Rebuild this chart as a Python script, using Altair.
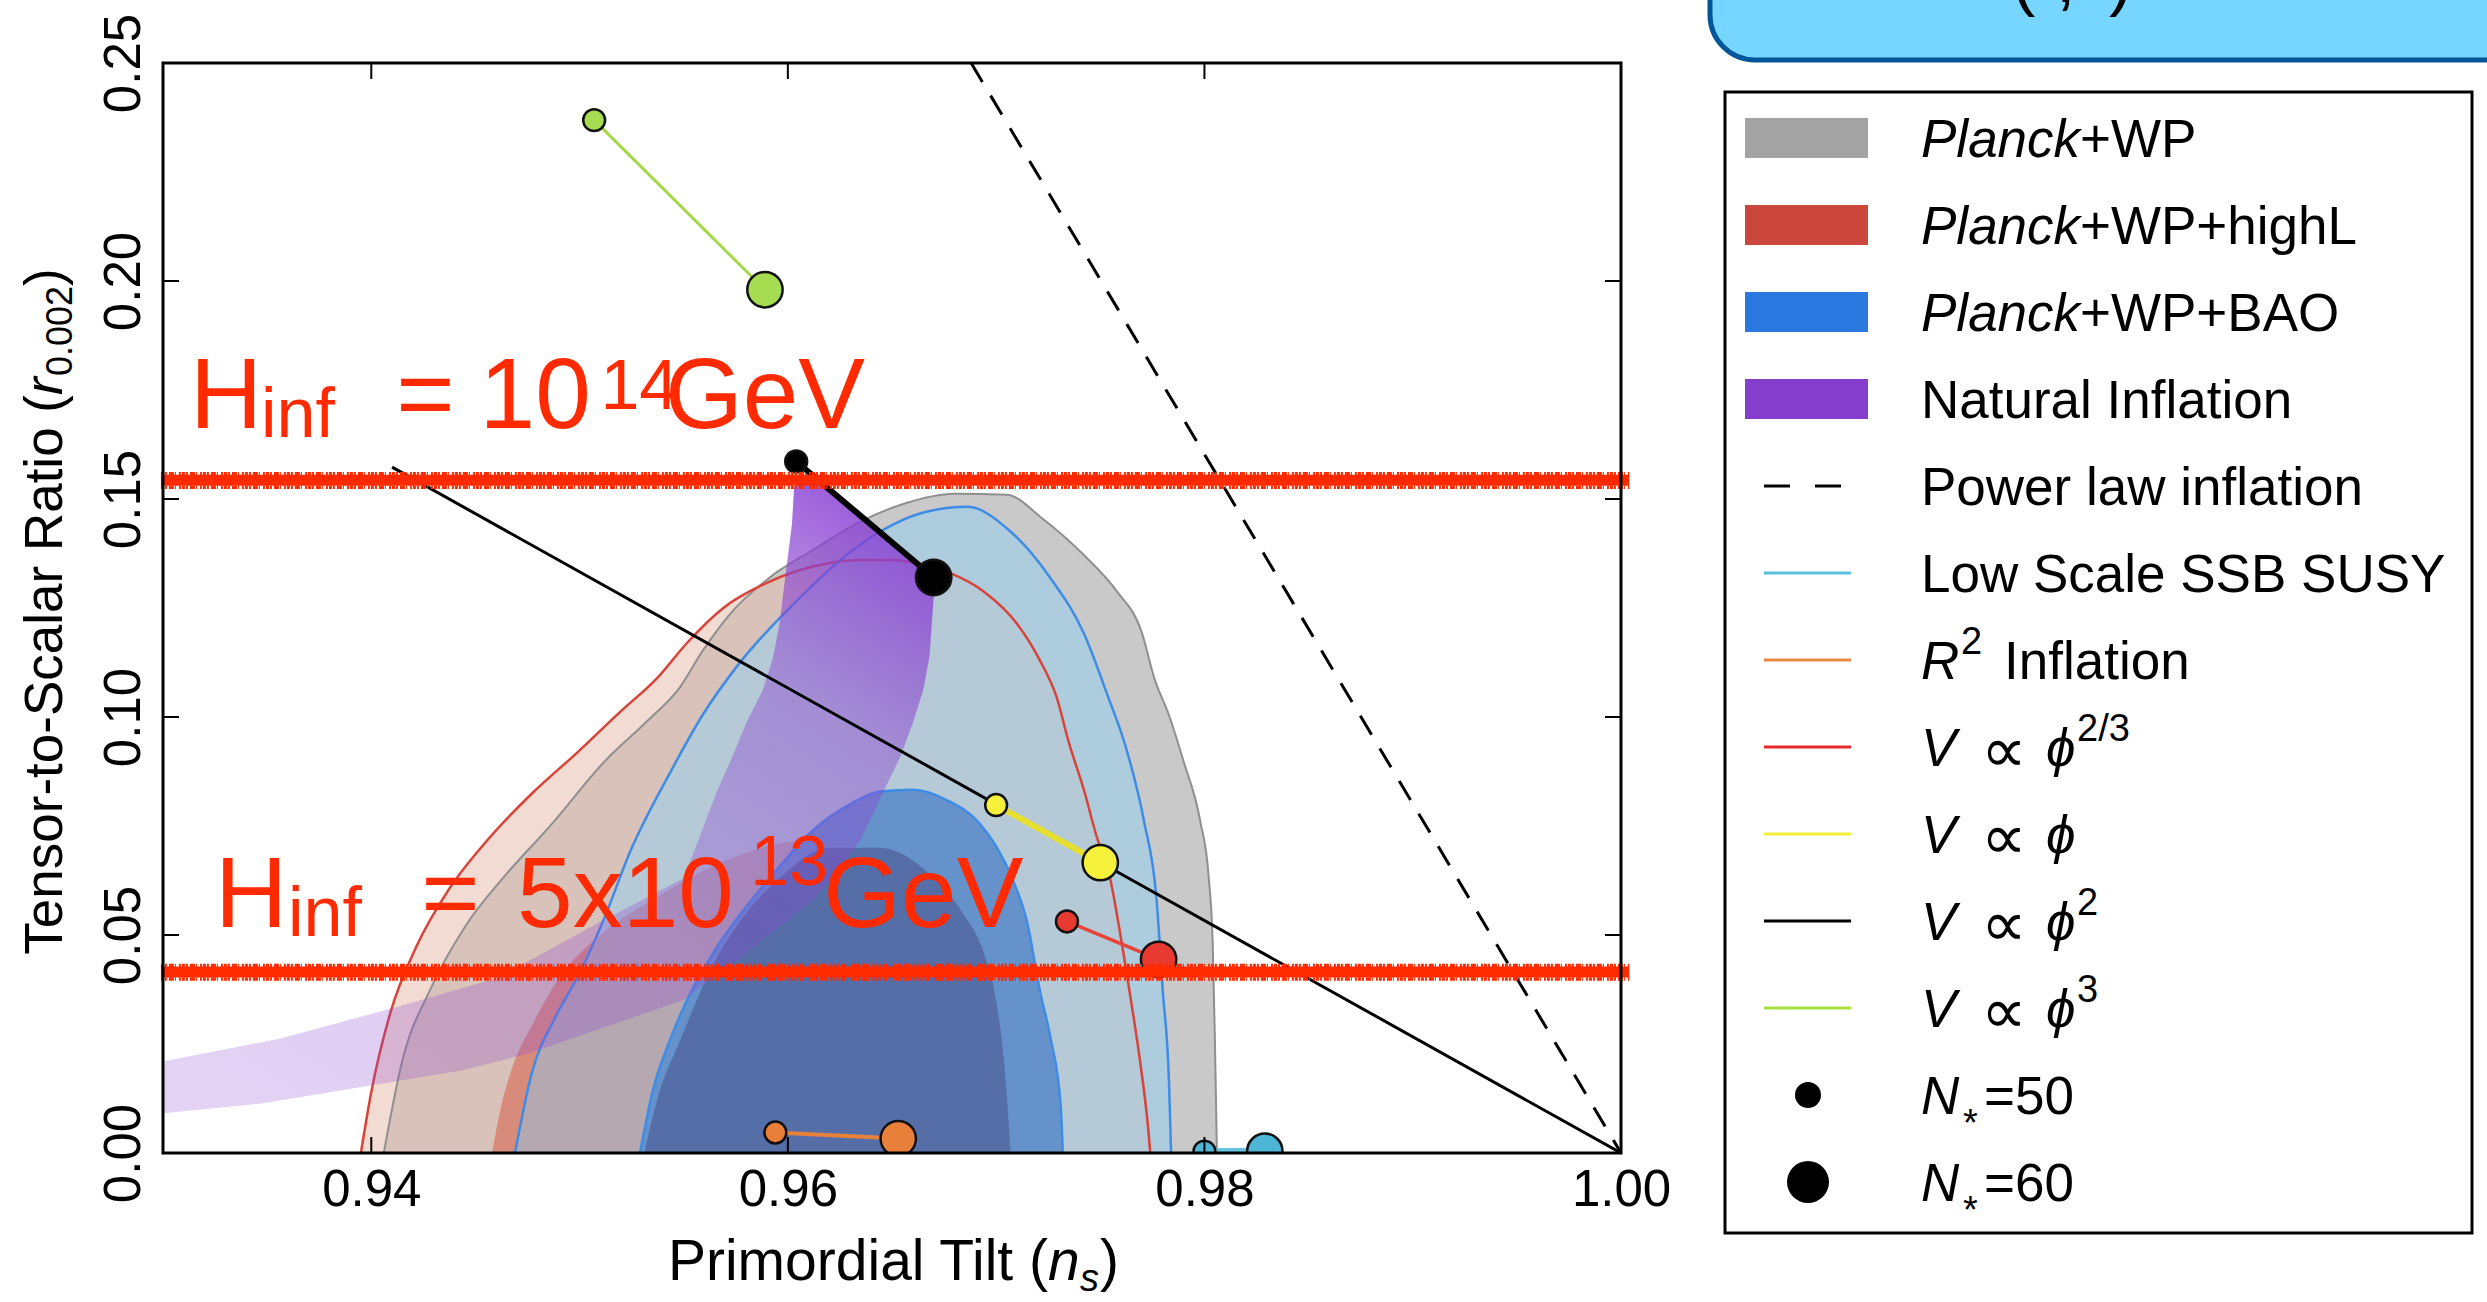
import altair as alt
import pandas as pd

# ---------------- values ----------------
x_tick_values = [0.94, 0.96, 0.98, 1.00]
y_tick_values = [0.00, 0.05, 0.10, 0.15, 0.20, 0.25]
inner_x_ticks = [0.94, 0.96, 0.98]
inner_y_ticks = [0.05, 0.10, 0.15, 0.20]

# Planck+WP 95% region (grey)
g95_ns = [0.9406, 0.9415, 0.9428, 0.9445, 0.9464, 0.9486, 0.9512, 0.9533, 0.9548, 0.9559, 0.9572, 0.9591,
          0.9612, 0.9634, 0.9655, 0.9680, 0.9705, 0.9722, 0.9742, 0.9758, 0.9770, 0.9776, 0.9783, 0.9790,
          0.9798, 0.9802, 0.9804, 0.9805, 0.9806]
g95_r = [0.0000, 0.0214, 0.0372, 0.0519, 0.0635, 0.0751, 0.0898, 0.0993, 0.1067, 0.1151, 0.1235, 0.1319,
         0.1383, 0.1446, 0.1488, 0.1512, 0.1510, 0.1456, 0.1372, 0.1288, 0.1193, 0.1088, 0.1004, 0.0898,
         0.0761, 0.0635, 0.0477, 0.0266, 0.0000]

# Planck+WP+highL outer region (red)
r95_ns = [0.9395, 0.9400, 0.9409, 0.9422, 0.9437, 0.9456, 0.9477, 0.9499, 0.9520, 0.9537, 0.9552, 0.9569,
          0.9591, 0.9612, 0.9634, 0.9651, 0.9664, 0.9678, 0.9694, 0.9710, 0.9721, 0.9729, 0.9735, 0.9742,
          0.9748, 0.9755, 0.9759, 0.9764, 0.9769, 0.9773, 0.9774]
r95_r = [0.0000, 0.0140, 0.0319, 0.0477, 0.0603, 0.0719, 0.0824, 0.0919, 0.1014, 0.1088, 0.1172, 0.1250,
         0.1310, 0.1345, 0.1360, 0.1360, 0.1350, 0.1330, 0.1288, 0.1214, 0.1130, 0.1046, 0.0940, 0.0835,
         0.0730, 0.0624, 0.0519, 0.0372, 0.0214, 0.0056, 0.0000]

# inner 68% region (Planck+WP / highL)
m68_ns = [0.9458, 0.9462, 0.9468, 0.9478, 0.9490, 0.9510, 0.9535, 0.9565, 0.9596, 0.9620, 0.9644, 0.9668,
          0.9684, 0.9695, 0.9702, 0.9707]
m68_r = [0.0000, 0.0100, 0.0200, 0.0300, 0.0400, 0.0500, 0.0580, 0.0660, 0.0710, 0.0722, 0.0706, 0.0642,
         0.0550, 0.0440, 0.0300, 0.0000]

# Planck+WP+BAO 95% (blue)
b95_ns = [0.9469, 0.9477, 0.9488, 0.9499, 0.9512, 0.9524, 0.9544, 0.9559, 0.9576, 0.9602, 0.9634, 0.9666,
          0.9686, 0.9707, 0.9726, 0.9742, 0.9753, 0.9763, 0.9771, 0.9777, 0.9780, 0.9783, 0.9784]
b95_r = [0.0000, 0.0182, 0.0308, 0.0403, 0.0540, 0.0688, 0.0877, 0.1004, 0.1119, 0.1256, 0.1393, 0.1470,
         0.1482, 0.1425, 0.1319, 0.1193, 0.1056, 0.0919, 0.0761, 0.0582, 0.0372, 0.0161, 0.0000]

# Planck+WP+BAO 68% (blue)
b68_ns = [0.9529, 0.9535, 0.9544, 0.9565, 0.9580, 0.9593, 0.9612, 0.9630, 0.9644, 0.9660, 0.9676, 0.9692,
          0.9700, 0.9708, 0.9715, 0.9721, 0.9726, 0.9731, 0.9732]
b68_r = [0.0000, 0.0140, 0.0266, 0.0465, 0.0565, 0.0640, 0.0740, 0.0800, 0.0829, 0.0833, 0.0810, 0.0756,
         0.0703, 0.0626, 0.0527, 0.0372, 0.0266, 0.0108, 0.0000]

# overlap of the 68% regions (dark core)
core_ns = [0.9531, 0.9538, 0.9548, 0.9565, 0.9580, 0.9596, 0.9620, 0.9644, 0.9668, 0.9684, 0.9694, 0.9700,
           0.9704, 0.9707]
core_r = [0.0000, 0.0135, 0.0255, 0.0440, 0.0550, 0.0630, 0.0700, 0.0700, 0.0640, 0.0550, 0.0460, 0.0350,
          0.0200, 0.0000]

# Natural inflation band (closed outline, in drawing order)
ni_ns = [0.9300, 0.9356, 0.9410, 0.9460, 0.9508, 0.9530, 0.9550, 0.9558, 0.9566, 0.9573, 0.9580, 0.9588,
         0.9593, 0.9596, 0.9599, 0.9602, 0.9603, 0.9612, 0.9640, 0.9670,
         0.9670, 0.9669, 0.9668, 0.9665, 0.9660, 0.9654, 0.9644, 0.9635, 0.9623, 0.9612, 0.9596, 0.9575, 0.9550,
         0.9508, 0.9476, 0.9444, 0.9396, 0.9348, 0.9300]
ni_r = [0.0210, 0.0262, 0.0332, 0.0400, 0.0525, 0.0580, 0.0630, 0.0730, 0.0830, 0.0905, 0.0986, 0.1062,
        0.1138, 0.1215, 0.1330, 0.1444, 0.1528, 0.1554, 0.1441, 0.1322,
        0.1276, 0.1207, 0.1138, 0.1062, 0.0986, 0.0909, 0.0810, 0.0718, 0.0642, 0.0580, 0.0519, 0.0440, 0.0351,
        0.0282, 0.0229, 0.0190, 0.0152, 0.0114, 0.0091]

# power-law inflation (dashed) and V ~ phi line
pl_ns = [0.9688, 1.0000]
pl_r = [0.2500, 0.0000]
lin_ns = [0.9410, 1.0000]
lin_r = [0.1573, 0.0000]

# model predictions
models = ["phi3", "phi2", "phi", "phi23", "R2", "SSB"]
n50_ns = [0.9507, 0.9604, 0.9700, 0.9734, 0.9594, 0.9800]
n50_r = [0.2369, 0.1586, 0.0798, 0.0531, 0.0047, 0.0003]
n60_ns = [0.9589, 0.9670, 0.9750, 0.9778, 0.9653, 0.9829]
n60_r = [0.1980, 0.1320, 0.0666, 0.0444, 0.0033, 0.0004]

# hand-drawn H_inf levels
hinf_levels = [0.1543, 0.0415]

# annotation text pieces: (text, ns, r, role)
ann_pieces = [
    ("H", 0.9313, 0.1663, "big"), ("inf", 0.9347, 0.1643, "small"), ("=", 0.9412, 0.1663, "big"),
    ("10", 0.9452, 0.1663, "big"), ("14", 0.9510, 0.1706, "small"), ("GeV", 0.9541, 0.1663, "big"),
    ("H", 0.9325, 0.0518, "big"), ("inf", 0.9360, 0.0498, "small"), ("=", 0.9424, 0.0518, "big"),
    ("5x10", 0.9470, 0.0518, "big"), ("13", 0.9582, 0.0615, "small"), ("GeV", 0.9617, 0.0518, "big"),
]

legend_colors = ["#A3A3A3", "#CB473D", "#2A79E0", "#843ECB", "#000000", "#5BBFE0", "#E98A44",
                 "#E82A2A", "#F2EE3A", "#000000", "#A8E040", "#000000", "#000000"]
legend_kinds = ["rect", "rect", "rect", "rect", "dash", "line", "line", "line", "line", "line", "line",
                "dot50", "dot60"]
# (row, text, style, offset, role)
legend_pieces = [
    (0, "Planck", "it", 0, "base"), (0, "+WP", "rm", 159, "base"),
    (1, "Planck", "it", 0, "base"), (1, "+WP+highL", "rm", 159, "base"),
    (2, "Planck", "it", 0, "base"), (2, "+WP+BAO", "rm", 159, "base"),
    (3, "Natural Inflation", "rm", 0, "base"),
    (4, "Power law inflation", "rm", 0, "base"),
    (5, "Low Scale SSB SUSY", "rm", 0, "base"),
    (6, "R", "it", 0, "base"), (6, "2", "rm", 40, "sup"), (6, "Inflation", "rm", 83, "base"),
    (7, "V", "it", 0, "base"), (7, "\u221d", "sym", 60, "base"), (7, "\u03d5", "it", 125, "base"),
    (7, "2/3", "rm", 156, "sup"),
    (8, "V", "it", 0, "base"), (8, "\u221d", "sym", 60, "base"), (8, "\u03d5", "it", 125, "base"),
    (9, "V", "it", 0, "base"), (9, "\u221d", "sym", 60, "base"), (9, "\u03d5", "it", 125, "base"),
    (9, "2", "rm", 156, "sup"),
    (10, "V", "it", 0, "base"), (10, "\u221d", "sym", 60, "base"), (10, "\u03d5", "it", 125, "base"),
    (10, "3", "rm", 156, "sup"),
    (11, "N", "it", 0, "base"), (11, "*", "rm", 42, "sub"), (11, "=50", "rm", 63, "base"),
    (12, "N", "it", 0, "base"), (12, "*", "rm", 42, "sub"), (12, "=60", "rm", 63, "base"),
]

# ---------------- styles / layout ----------------
FONT = "Liberation Sans"
RED = "#FF2A00"
W, H = 1458, 1090
PAD = {"left": 163, "top": 63, "right": 2487 - 163 - W, "bottom": 1302 - 63 - H}

seg_color = ["#A6D94A", "#000000", "#E6DF30", "#E8453A", "#E8823A", "#66C4E0"]
seg_width = [3, 6, 6, 3.5, 4, 7]
pt_color = ["#A6DC50", "#000000", "#F5F03A", "#E83A30", "#E8803A", "#4DB6D6"]
SIZE50, SIZE60 = 480, 1250

xs = alt.Scale(domain=[0.93, 1.00], nice=False, zero=False)
ys = alt.Scale(domain=[0.0, 0.25], nice=False, zero=False)
x_axis = alt.Axis(values=x_tick_values, format=".2f", title=None, grid=False, ticks=False, domain=False,
                  labelFont=FONT, labelFontSize=51, labelColor="black", labelPadding=12,
                  labelFlush=False, labelOverlap=False)
y_axis = alt.Axis(values=y_tick_values, format=".2f", title=None, grid=False, ticks=False, domain=False,
                  labelFont=FONT, labelFontSize=51, labelColor="black", labelAngle=270,
                  labelAlign="center", labelBaseline="bottom", labelPadding=13,
                  labelFlush=False, labelOverlap=False)


def X(field="x"):
    return alt.X(field, type="quantitative", scale=xs, axis=x_axis)


def Y(field="y"):
    return alt.Y(field, type="quantitative", scale=ys, axis=y_axis)


def cdf(ns, r):
    return pd.DataFrame({"x": ns, "y": r})


def fill_layer(ns, r, color, opacity=1.0):
    return alt.Chart(cdf(ns, r)).mark_area(color=color, opacity=opacity, interpolate="monotone",
                                           clip=True).encode(x=X(), y=Y(), y2=alt.datum(0.0))


def outline_layer(ns, r, color, width):
    return alt.Chart(cdf(ns, r)).mark_line(color=color, strokeWidth=width, interpolate="monotone",
                                           clip=True).encode(x=X(), y=Y())


one = pd.DataFrame({"a": [0]})
layers = []

# contours
layers.append(fill_layer(g95_ns, g95_r, "#C9C9C9"))
layers.append(fill_layer(r95_ns, r95_r, "rgb(231,188,171)", 0.54))
layers.append(fill_layer(m68_ns, m68_r, "rgb(215,83,61)", 0.5))
layers.append(fill_layer(b95_ns, b95_r, "rgb(134,212,255)", 0.41))
layers.append(fill_layer(b68_ns, b68_r, "#6592CA"))
layers.append(fill_layer(core_ns, core_r, "#556EA8"))
layers.append(outline_layer(g95_ns, g95_r, "#8F8F8F", 2))
layers.append(outline_layer(r95_ns, r95_r, "#D8443A", 2.5))
layers.append(outline_layer(b95_ns, b95_r, "#3F8CE6", 2.5))
layers.append(outline_layer(b68_ns, b68_r, "#3F8CE6", 2.5))

# natural inflation band
grad = alt.LinearGradient(
    gradient="linear",
    stops=[alt.GradientStop(color="rgba(140,70,210,0.24)", offset=0),
           alt.GradientStop(color="rgba(140,70,210,0.30)", offset=0.45),
           alt.GradientStop(color="rgba(140,70,210,0.45)", offset=0.75),
           alt.GradientStop(color="rgba(135,60,210,0.88)", offset=1)],
    x1=0.1, y1=1, x2=0.9, y2=0)
ni_df = pd.DataFrame({"x": ni_ns, "y": ni_r, "o": list(range(len(ni_ns)))})
layers.append(alt.Chart(ni_df).mark_line(interpolate="linear-closed", fill=grad, strokeOpacity=0,
                                         clip=True).encode(x=X(), y=Y(), order="o:Q"))

# power law + linear lines
layers.append(alt.Chart(cdf(pl_ns, pl_r)).mark_line(color="black", strokeWidth=3, strokeDash=[22, 16],
                                                    clip=True).encode(x=X(), y=Y()))
layers.append(alt.Chart(cdf(lin_ns, lin_r)).mark_line(color="black", strokeWidth=3, clip=True)
              .encode(x=X(), y=Y()))

# model segments and points
rows = []
for i, m in enumerate(models):
    rows.append({"model": m, "N": 50, "x": n50_ns[i], "y": n50_r[i], "lc": seg_color[i],
                 "lw": seg_width[i], "pc": pt_color[i], "sz": SIZE50})
    rows.append({"model": m, "N": 60, "x": n60_ns[i], "y": n60_r[i], "lc": seg_color[i],
                 "lw": seg_width[i], "pc": pt_color[i], "sz": SIZE60})
seg_df = pd.DataFrame(rows)
layers.append(alt.Chart(seg_df).mark_line(clip=True).encode(
    x=X(), y=Y(), detail="model:N", order="N:Q",
    color=alt.Color("lc:N", scale=None), strokeWidth=alt.StrokeWidth("lw:Q", scale=None)))
layers.append(alt.Chart(seg_df).mark_circle(opacity=1, stroke="#111111", strokeWidth=2.5, clip=True).encode(
    x=X(), y=Y(), color=alt.Color("pc:N", scale=None), size=alt.Size("sz:Q", scale=None)))

# hand-drawn H_inf lines
h_df = pd.DataFrame({"y": hinf_levels})
layers.append(alt.Chart(h_df).mark_rule(color=RED, strokeWidth=11).encode(
    x=alt.datum(0.9299), x2=alt.datum(1.0004), y=Y()))
edge_rows = []
for lv in hinf_levels:
    edge_rows.append({"y": lv + 0.0015})
    edge_rows.append({"y": lv - 0.0016})
layers.append(alt.Chart(pd.DataFrame(edge_rows)).mark_rule(
    color=RED, strokeWidth=3.5, strokeDash=[3, 1, 2, 2, 5, 1, 1, 3, 2, 1]).encode(
    x=alt.datum(0.9299), x2=alt.datum(1.0004), y=Y()))

# annotation text
ann_df = pd.DataFrame([{"t": t, "x": x, "y": y, "s": 100 if role == "big" else 70}
                       for (t, x, y, role) in ann_pieces])
layers.append(alt.Chart(ann_df).mark_text(align="left", baseline="alphabetic", font=FONT, color=RED).encode(
    x=X(), y=Y(), text="t:N", size=alt.Size("s:Q", scale=None)))

# inward ticks and frame
xt = pd.DataFrame({"x": inner_x_ticks})
yt = pd.DataFrame({"y": inner_y_ticks})
layers.append(alt.Chart(xt).mark_rule(color="black", strokeWidth=2).encode(
    x=X(), y=alt.value(H), y2=alt.value(H - 16)))
layers.append(alt.Chart(xt).mark_rule(color="black", strokeWidth=2).encode(
    x=X(), y=alt.value(0), y2=alt.value(16)))
layers.append(alt.Chart(yt).mark_rule(color="black", strokeWidth=2).encode(
    y=Y(), x=alt.value(0), x2=alt.value(16)))
layers.append(alt.Chart(yt).mark_rule(color="black", strokeWidth=2).encode(
    y=Y(), x=alt.value(W), x2=alt.value(W - 16)))
layers.append(alt.Chart(one).mark_rect(fillOpacity=0, stroke="black", strokeWidth=3).encode(
    x=alt.value(0), x2=alt.value(W), y=alt.value(0), y2=alt.value(H)))


# axis titles (pieces)
def txt(text, x, y, size=53, align="left", italic=False, angle=0, dx=0, dy=0):
    kw = dict(align=align, baseline="alphabetic", font=FONT, fontSize=size, color="black")
    if italic:
        kw["fontStyle"] = "italic"
    if angle:
        kw["angle"] = angle
    if dx:
        kw["dx"] = dx
    if dy:
        kw["dy"] = dy
    return alt.Chart(one).mark_text(**kw).encode(x=alt.value(x), y=alt.value(y), text=alt.value(text))


layers.append(txt("Primordial Tilt (", 885, 1217, size=57, align="right"))
layers.append(txt("n", 885, 1217, size=57, italic=True))
layers.append(txt("s", 917, 1228, size=38, italic=True))
layers.append(txt(")", 937, 1217, size=57))

layers.append(txt("Tensor-to-Scalar Ratio (", -101, 332, align="right", angle=270))
layers.append(txt("r", -101, 332, italic=True, angle=270))
layers.append(txt("0.002", -101, 313, size=36, angle=270, dy=10))
layers.append(txt(")", -101, 223, angle=270))

# top rounded box (cut off by the page edge)
layers.append(alt.Chart(one).mark_rect(fill="#77D6FF", stroke="#00569A", strokeWidth=5, cornerRadius=45).encode(
    x=alt.value(1547), x2=alt.value(2420), y=alt.value(-140), y2=alt.value(-3)))
layers.append(txt("(", 1849, -61, size=70))
layers.append(txt(",", 1893, -61, size=70))
layers.append(txt(")", 1946, -61, size=70))

# legend
layers.append(alt.Chart(one).mark_rect(fill="white", stroke="black", strokeWidth=3).encode(
    x=alt.value(1562), x2=alt.value(2309), y=alt.value(29), y2=alt.value(1170)))

ROW0, ROWSTEP = 75, 87
leg = pd.DataFrame({"row": list(range(len(legend_kinds))), "kind": legend_kinds, "c": legend_colors})
leg["py"] = ROW0 + ROWSTEP * leg["row"]
leg["py0"] = leg["py"] - 20
leg["py1"] = leg["py"] + 20
leg["sz"] = leg["kind"].map({"dot50": 676, "dot60": 1764}).fillna(0)

LY = alt.Y("py:Q", scale=None, axis=None)
layers.append(alt.Chart(leg).transform_filter(alt.datum.kind == "rect").mark_rect().encode(
    x=alt.value(1582), x2=alt.value(1705), y=alt.Y("py0:Q", scale=None, axis=None), y2="py1:Q",
    color=alt.Color("c:N", scale=None)))
layers.append(alt.Chart(leg).transform_filter(alt.datum.kind == "line").mark_rule(strokeWidth=3).encode(
    x=alt.value(1601), x2=alt.value(1688), y=LY, color=alt.Color("c:N", scale=None)))
layers.append(alt.Chart(leg).transform_filter(alt.datum.kind == "dash").mark_rule(
    strokeWidth=3, strokeDash=[26, 25]).encode(
    x=alt.value(1601), x2=alt.value(1688), y=LY, color=alt.Color("c:N", scale=None)))
layers.append(alt.Chart(leg).transform_filter(alt.FieldOneOfPredicate(field="kind", oneOf=["dot50", "dot60"]))
              .mark_circle(opacity=1).encode(
    x=alt.value(1645), y=LY, color=alt.Color("c:N", scale=None), size=alt.Size("sz:Q", scale=None)))

LEG_TX = 1758
shift = {"base": (19, 53), "sup": (-6, 38), "sub": (41, 38)}
lp = pd.DataFrame([{"t": t, "st": st, "px": LEG_TX + off,
                    "py": ROW0 + ROWSTEP * r + shift[role][0] + (6 if st == "sym" else 0),
                    "s": 64 if st == "sym" else shift[role][1]}
                   for (r, t, st, off, role) in legend_pieces])
for st, style in (("it", "italic"), ("rm", "normal"), ("sym", "normal")):
    layers.append(alt.Chart(lp).transform_filter(alt.datum.st == st).mark_text(
        align="left", baseline="alphabetic", font=FONT, color="black", fontStyle=style).encode(
        x=alt.X("px:Q", scale=None, axis=None), y=LY, text="t:N", size=alt.Size("s:Q", scale=None)))

chart = alt.layer(*layers).properties(
    width=W, height=H, padding=PAD, autosize=alt.AutoSizeParams(type="none"), background="white"
).configure_view(strokeWidth=0)

chart.save("out.html", embed_options={"renderer": "svg", "actions": False})
